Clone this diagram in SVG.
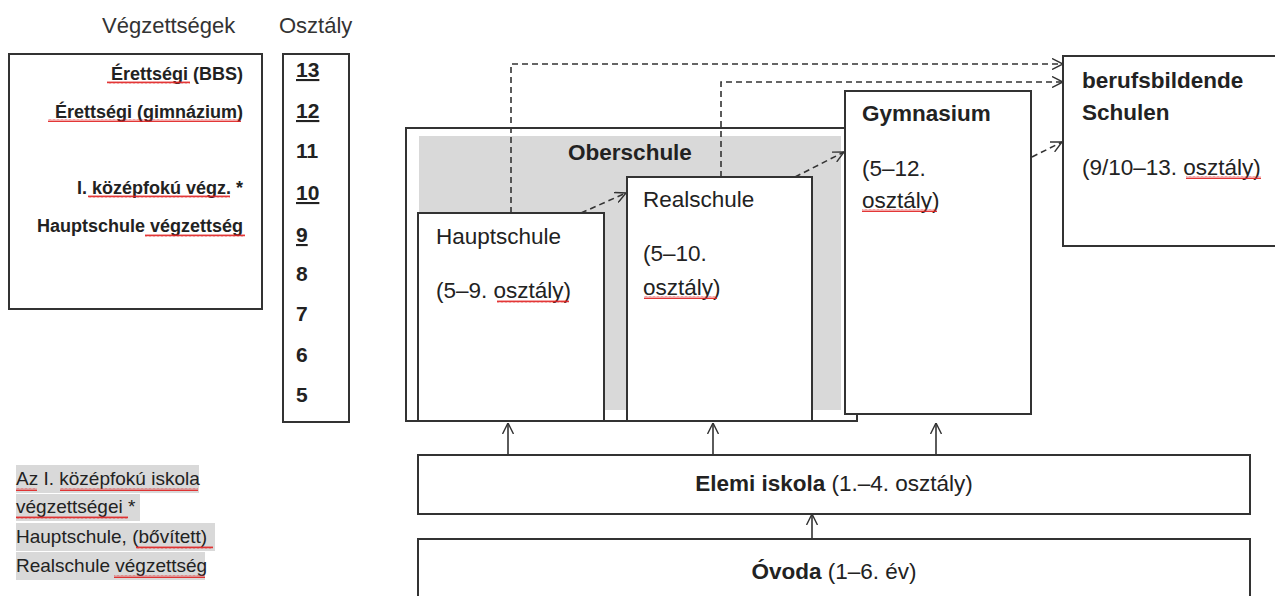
<svg xmlns="http://www.w3.org/2000/svg" width="1275" height="596" viewBox="0 0 1275 596">
<style>
  text { font-family: "Liberation Sans", Arial, sans-serif; fill: #222; }
  .hdr { font-size: 22px; fill: #333; }
  .lab { font-size: 18px; font-weight: bold; text-anchor: end; }
  .num { font-size: 21px; font-weight: bold; }
  .box { fill: #fff; stroke: #333; stroke-width: 2; }
  .bl { font-size: 22.5px; font-weight: bold; }
  .rl { font-size: 22.5px; }
  .note { font-size: 19px; }
  .hl { fill: #d9d9d9; }
  .dash { fill: none; stroke: #333; stroke-width: 1.6; stroke-dasharray: 6 4; marker-end: url(#oa); }
  .solid { fill: none; stroke: #333; stroke-width: 1.6; marker-end: url(#oa); }
  .wav { fill: url(#wave); }
</style>
<defs>
  <marker id="oa" viewBox="0 0 10 10" refX="10" refY="5" markerWidth="11" markerHeight="12" markerUnits="userSpaceOnUse" orient="auto">
    <path d="M0,0 L10,5 L0,10" fill="none" stroke="#333" stroke-width="1.3" stroke-dasharray="none"/>
  </marker>
  <pattern id="wave" width="4" height="3" patternUnits="userSpaceOnUse">
    <path d="M0,2.5 L1,0.5 L2,2.5 L3,0.5 L4,2.5" fill="none" stroke="#e02020" stroke-width="0.9"/>
  </pattern>
</defs>

<g id="headers">
  <text class="hdr" x="102" y="33">Végzettségek</text>
  <text class="hdr" x="279" y="33">Osztály</text>
</g>

<g id="vegzettsegek">
  <rect class="box" x="9" y="54" width="253" height="255"/>
  <text class="lab" x="243" y="80">Érettségi (BBS)</text>
  <text class="lab" x="243" y="118">Érettségi (gimnázium)</text>
  <text class="lab" x="243" y="194">I. középfokú végz. *</text>
  <text class="lab" x="243" y="232">Hauptschule végzettség</text>
  <rect class="wav" x="107" y="81" width="83" height="3"/>
  <rect class="wav" x="48" y="119" width="193" height="3"/>
  <rect class="wav" x="88" y="195" width="142" height="3"/>
  <rect class="wav" x="145" y="234" width="100" height="3"/>
</g>

<g id="osztaly">
  <rect class="box" x="283" y="54" width="66" height="368"/>
  <text class="num" x="296" y="77" text-decoration="underline">13</text>
  <text class="num" x="296" y="118" text-decoration="underline">12</text>
  <text class="num" x="296" y="158">11</text>
  <text class="num" x="296" y="200" text-decoration="underline">10</text>
  <text class="num" x="296" y="242" text-decoration="underline">9</text>
  <text class="num" x="296" y="281">8</text>
  <text class="num" x="296" y="321">7</text>
  <text class="num" x="296" y="362">6</text>
  <text class="num" x="296" y="402">5</text>
</g>

<g id="oberschule">
  <rect class="box" x="406" y="128" width="451" height="293"/>
  <rect x="419" y="136" width="422" height="274" fill="#d9d9d9"/>
  <text class="bl" x="630" y="160" text-anchor="middle" font-size="21">Oberschule</text>
</g>

<g id="hauptschule">
  <rect class="box" x="418" y="213" width="186" height="208"/>
  <text class="rl" x="436" y="244">Hauptschule</text>
  <text class="rl" x="436" y="298">(5–9. osztály)</text>
  <rect class="wav" x="497" y="300" width="72" height="3"/>
</g>

<g id="realschule">
  <rect class="box" x="627" y="177" width="185" height="244"/>
  <text class="rl" x="643" y="207">Realschule</text>
  <text class="rl" x="643" y="261">(5–10.</text>
  <text class="rl" x="643" y="295">osztály)</text>
  <rect class="wav" x="644" y="296" width="73" height="3"/>
</g>

<g id="gymnasium">
  <rect class="box" x="845" y="91" width="186" height="323"/>
  <text class="bl" x="862" y="121">Gymnasium</text>
  <text class="rl" x="862" y="176">(5–12.</text>
  <text class="rl" x="862" y="208">osztály)</text>
  <rect class="wav" x="862" y="209" width="75" height="3"/>
</g>

<g id="bbs">
  <rect class="box" x="1063" y="56" width="230" height="190"/>
  <text class="bl" x="1082" y="88">berufsbildende</text>
  <text class="bl" x="1082" y="120">Schulen</text>
  <text class="rl" x="1082" y="175">(9/10–13. osztály)</text>
  <rect class="wav" x="1186" y="176" width="75" height="3"/>
</g>

<g id="elemi">
  <rect class="box" x="418" y="455" width="832" height="59"/>
  <text x="834" y="491" text-anchor="middle" font-size="22.5"><tspan font-weight="bold">Elemi iskola</tspan> (1.–4. osztály)</text>
</g>

<g id="ovoda">
  <rect class="box" x="418" y="539" width="832" height="70"/>
  <text x="834" y="579" text-anchor="middle" font-size="22.5"><tspan font-weight="bold">Óvoda</tspan> (1–6. év)</text>
</g>

<g id="note">
  <rect class="hl" x="16" y="465" width="183" height="28"/>
  <rect class="hl" x="16" y="494" width="124" height="27"/>
  <rect class="hl" x="16" y="523" width="199" height="28"/>
  <rect class="hl" x="16" y="552" width="189" height="28"/>
  <text class="note" x="16" y="485">Az I. középfokú iskola</text>
  <text class="note" x="16" y="513">végzettségei *</text>
  <text class="note" x="16" y="543">Hauptschule, (bővített)</text>
  <text class="note" x="16" y="572">Realschule végzettség</text>
  <rect class="wav" x="16" y="488" width="21" height="3"/>
  <rect class="wav" x="60" y="488" width="138" height="3"/>
  <rect class="wav" x="16" y="516" width="112" height="3"/>
  <rect class="wav" x="136" y="546" width="77" height="3"/>
  <rect class="wav" x="114" y="575" width="91" height="3"/>
</g>

<g id="connectors">
  <path class="dash" d="M511,213 V64 H1063"/>
  <path class="dash" d="M721,177 V82 H1063"/>
  <path class="dash" d="M581,213 L626,193"/>
  <path class="dash" d="M795,177 L844,152"/>
  <path class="dash" d="M1032,157 L1062,142"/>
  <path class="solid" d="M508,455 V423"/>
  <path class="solid" d="M713,455 V423"/>
  <path class="solid" d="M936,455 V423"/>
  <path class="solid" d="M812,539 V514"/>
</g>
</svg>
